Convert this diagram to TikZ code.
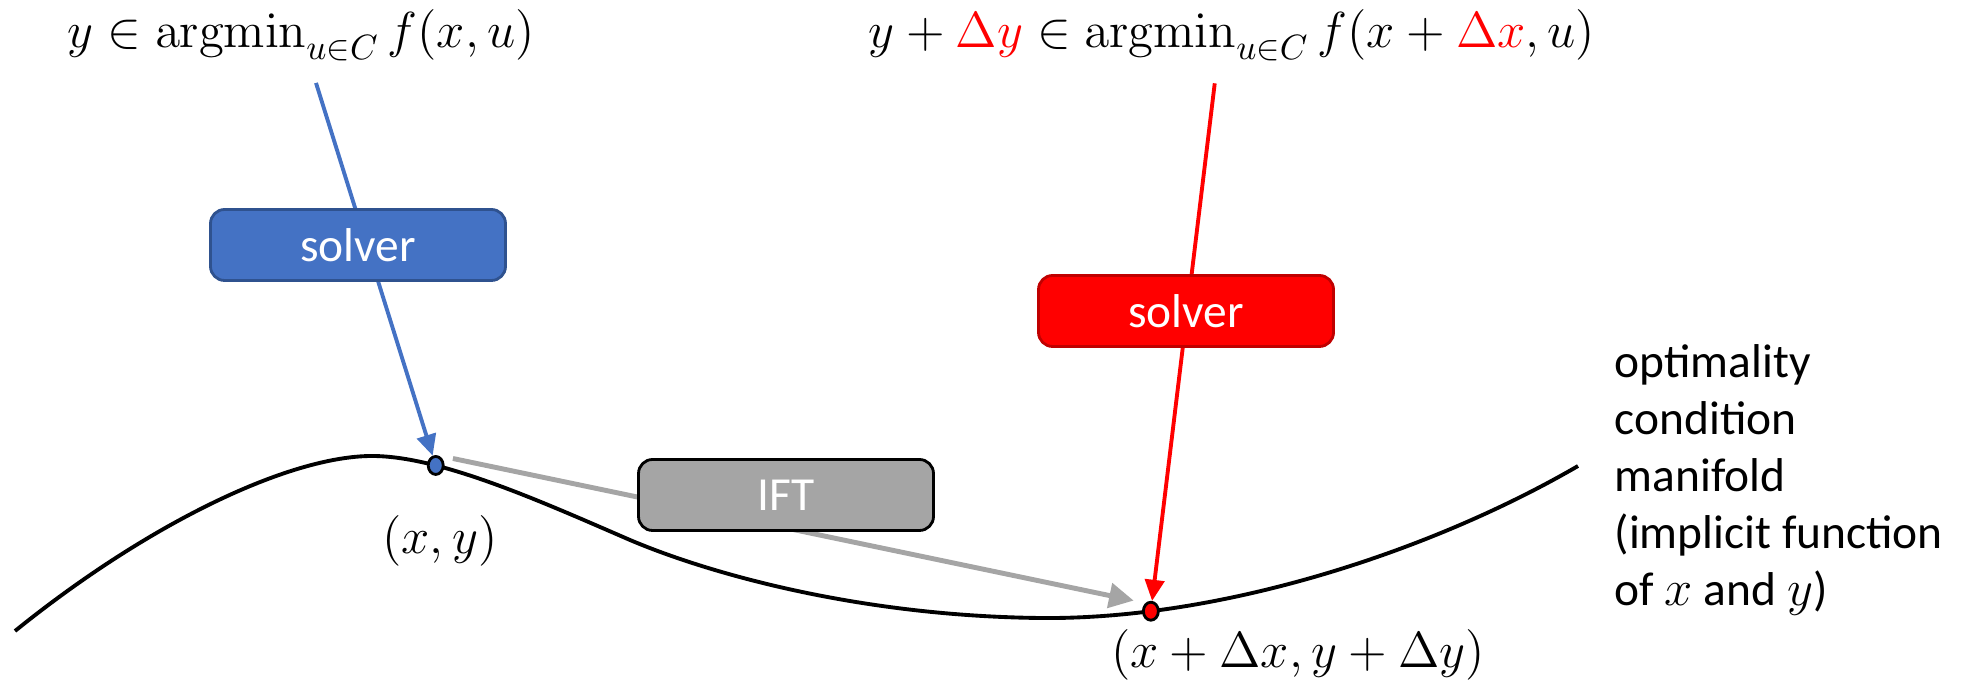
\documentclass[tikz,border=0pt]{standalone}
\usepackage[no-math]{fontspec}
\setmainfont{Carlito}
\usepackage{amsmath,amssymb}
\usetikzlibrary{arrows.meta,shapes.geometric}
\definecolor{solverblue}{HTML}{4472C4}
\definecolor{solverblueline}{HTML}{2F528F}
\definecolor{solverredline}{HTML}{C00000}
\definecolor{iftgray}{HTML}{A5A5A5}

\begin{document}
\begin{tikzpicture}[
    font=\fontsize{13.5}{16.2}\selectfont,
    box/.style={rounded corners=4pt, line width=0.8pt, minimum width=2.95cm, minimum height=0.71cm, text=white},
    pt/.style={ellipse, draw=black, line width=0.8pt, minimum width=0.15cm, minimum height=0.18cm, inner sep=0pt},
    tip/.style={-{Triangle[length=6pt,width=5.5pt]}, line width=1.1pt}
  ]
    % Canvas
    \useasboundingbox (0,0) rectangle (19.72,6.82);

    % Manifold curve, with the two points on it
    \draw[line width=1.1pt] (0.15,0.51) .. controls (1.5,1.6) and (2.9,2.26) .. (3.72,2.26)
      .. controls (4.4,2.26) and (5.4,1.81) .. node[pt, fill=solverblue, pos=0.28] (xy) {} (6.3,1.42)
      .. controls (7.1,1.08) and (8.6,0.66) .. (10.4,0.64)
      .. controls (12.2,0.62) and (14.3,1.3) .. node[pt, fill=red, pos=0.2] (xyd) {} (15.78,2.16);

    % Point labels
    \node (xylab) at (4.40,1.41) {$(x,y)$};
    \node (xydlab) at (12.98,0.27) {$(x+\Delta x,y+\Delta y)$};

    % Problems on top
    \node[font=\fontsize{14}{17}\selectfont] (argmin) at (3.01,6.47) {$y \in \operatorname{argmin}_{u\in C} f(x,u)$};
    \node[font=\fontsize{14}{17}\selectfont] (argmind) at (12.32,6.47) {$y+{\color{red}\Delta y} \in \operatorname{argmin}_{u\in C} f(x+{\color{red}\Delta x},u)$};

    % Arrows
    \draw[tip, solverblue, shorten <=3pt] (argmin) -- (xy);
    \draw[tip, red, shorten <=3pt] ([xshift=-0.16cm]argmind.south) -- (xyd);
    \draw[iftgray, line width=1.4pt, -{Triangle[length=7pt,width=7pt]}, shorten <=5pt, shorten >=5pt] ([yshift=3pt]xy.center) -- ([yshift=2pt]xyd.center);

    % Boxes
    \node[box, fill=solverblue, draw=solverblueline] (solve) at (3.58,4.37) {solver};
    \node[box, fill=red, draw=solverredline] (solved) at (11.86,3.71) {solver};
    \node[box, fill=iftgray, draw=black] (ift) at (7.86,1.87) {IFT};

    % Manifold text
    \node[align=left, anchor=north west, inner sep=0pt] (cond) at (16.14,3.38) {optimality\\condition\\manifold\\(implicit function\\of $x$ and $y$)};
\end{tikzpicture}
\end{document}
